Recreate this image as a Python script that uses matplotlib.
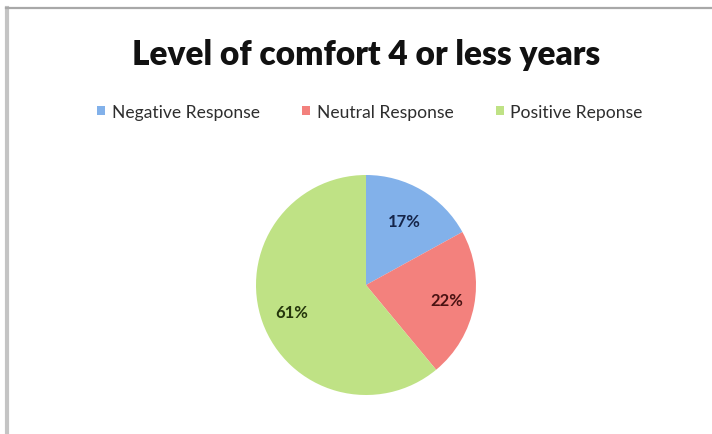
import matplotlib
matplotlib.use("Agg")
import numpy as np
import matplotlib.pyplot as plt
from matplotlib.lines import Line2D

# chart data
categories = ["Negative Response", "Neutral Response", "Positive Reponse"]
shares = [17, 22, 61]
colors = ["#82b1ea", "#f3817d", "#bfe285"]
label_colors = ["#15254a", "#4a1212", "#25360c"]
label_dist = [0.68, 0.75, 0.72]

W, H = 712, 435
fig = plt.figure(figsize=(W / 100, H / 100), dpi=100)
fig.patch.set_facecolor("white")

# chart-area frame (left and top edges visible)
fig.add_artist(Line2D([7 / W, 7 / W], [0, 1 - 9 / H], color="#c4c4c4", lw=3))
fig.add_artist(Line2D([6 / W, 1], [1 - 9 / H, 1 - 9 / H], color="#a8a8a8", lw=1.6))

cx, cy, r = 366, 286, 110
ax = fig.add_axes([(cx - r) / W, (H - cy - r) / H, 2 * r / W, 2 * r / H])
wedges, _ = ax.pie(shares, colors=colors, startangle=90, counterclock=False,
                   wedgeprops=dict(linewidth=0))
ax.set_xlim(-1, 1)
ax.set_ylim(-1, 1)
ax.axis("off")

for w, s, c, d in zip(wedges, shares, label_colors, label_dist):
    mid = np.deg2rad((w.theta1 + w.theta2) / 2)
    ax.text(d * np.cos(mid), d * np.sin(mid), f"{s}%", ha="center", va="center",
            fontsize=12, color=c, family="Lato", fontweight="bold")

fig.text(366 / W, 1 - 55 / H, "Level of comfort 4 or less years", ha="center", va="center",
         fontsize=24, fontweight="heavy", family="Lato", color="#111111")

leg = fig.legend(wedges, categories, loc="center", bbox_to_anchor=(370 / W, 1 - 113 / H),
                 ncol=3, frameon=False, handlelength=0.45, handleheight=0.45,
                 handletextpad=0.4, columnspacing=2.4,
                 prop={"family": "Lato", "size": 12.6})
for t in leg.get_texts():
    t.set_color("#2e2e2e")

fig.savefig("out.png", dpi=100, facecolor="white")
